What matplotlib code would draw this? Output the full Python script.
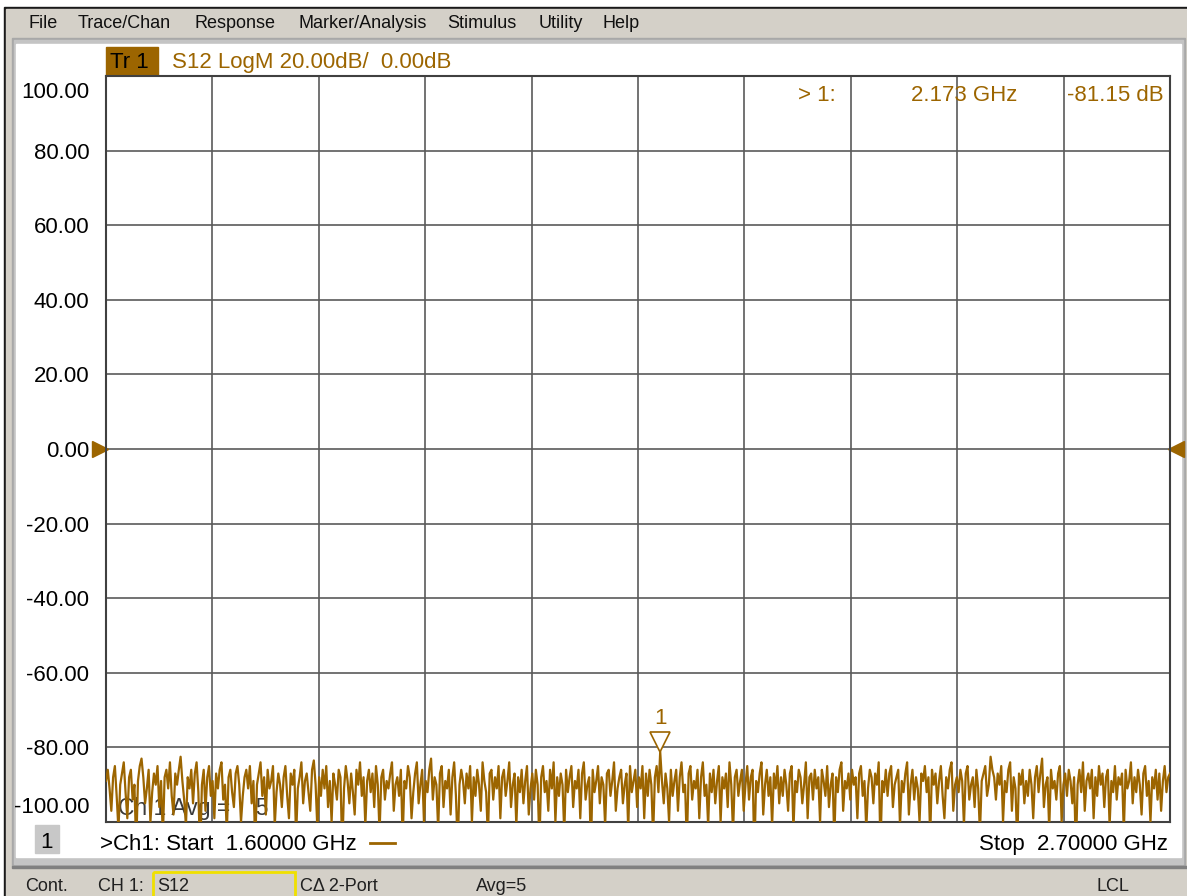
import numpy as np
import matplotlib
matplotlib.use("Agg")
import matplotlib.pyplot as plt
from matplotlib import transforms
from matplotlib.patches import Rectangle

plt.rcParams['font.family'] = ['Liberation Sans', 'DejaVu Sans']

W, H = 1187, 896
GOLD = '#9c6500'

# --- instrument settings / data ---
start_ghz = 1.6
stop_ghz = 2.7
ref_db = 0.0
ytick_vals = [-100, -80, -60, -40, -20, 0, 20, 40, 60, 80, 100]
menu_items = ['File', 'Trace/Chan', 'Response', 'Marker/Analysis', 'Stimulus', 'Utility', 'Help']
menu_x = [29, 78, 194, 299, 447, 539, 603]
marker_freq = 2.173
marker_db = -81.15

# S12 magnitude (dB) (values below -100 run off the grid)
s12_db = [
    -89, -86, -91, -97, -88, -85, -93, -102, -90, -87, -84, -92, -99, -88, -86, -94, -90, -107, -89, -85,
    -83, -88, -95, -91, -86, -100, -92, -87, -90, -85, -96, -89, -104, -88, -86, -91, -84, -93, -98, -87,
    -90, -86, -82.5, -89, -94, -101, -88, -91, -86, -95, -87, -84, -92, -109, -90, -86, -97, -88, -85, -93,
    -89, -99, -87, -91, -86, -84, -94, -90, -103, -88, -86, -92, -96, -87, -85, -90, -100, -93, -88, -86,
    -91, -85, -95, -89, -106, -90, -87, -84, -93, -88, -98, -86, -91, -89, -85, -101, -92, -87, -90, -96,
    -88, -85, -93, -99, -87, -90, -86, -104, -91, -88, -84, -95, -89, -87, -92, -97, -86, -83.5, -90, -102,
    -88, -93, -86, -91, -85, -96, -89, -100, -87, -90, -94, -86, -88, -108, -91, -85, -89, -95, -87, -92,
    -98, -86, -90, -84, -93, -88, -101, -89, -86, -92, -87, -96, -85, -90, -103, -88, -86, -94, -89, -91,
    -87, -84, -97, -90, -88, -93, -86, -105, -89, -91, -85, -88, -99, -92, -87, -84, -95, -90, -86, -100,
    -89, -92, -86, -83, -94, -88, -90, -102, -87, -85, -96, -89, -91, -86, -98, -88, -84, -93, -107, -90,
    -86, -89, -95, -87, -91, -85, -100, -88, -93, -86, -90, -97, -84, -89, -92, -104, -87, -86, -94, -88,
    -91, -85, -99, -88, -86, -93, -89, -84, -96, -90, -87, -101, -88, -92, -86, -95, -89, -85, -98, -91,
    -87, -94, -86, -90, -106, -88, -85, -92, -89, -97, -86, -91, -84, -100, -88, -93, -87, -90, -103, -86,
    -92, -88, -85, -96, -89, -91, -86, -99, -87, -84, -94, -90, -88, -108, -86, -92, -89, -85, -95, -88,
    -90, -101, -87, -86, -93, -89, -84, -97, -91, -88, -86, -95, -90, -87, -102, -85, -92, -89, -86, -96,
    -88, -91, -85, -99, -87, -93, -86, -90, -104, -88, -85, -92, -81.15, -89, -95, -87, -91, -100, -86, -93,
    -89, -86, -97, -88, -84, -92, -90, -106, -87, -85, -94, -89, -91, -86, -99, -88, -84, -93, -90, -101,
    -87, -92, -86, -95, -89, -85, -100, -88, -91, -87, -96, -84, -90, -103, -88, -86, -93, -89, -86, -97,
    -90, -85, -94, -88, -86, -109, -89, -92, -87, -84, -98, -90, -86, -93, -88, -101, -87, -91, -85, -95,
    -88, -93, -86, -90, -97, -87, -85, -102, -89, -92, -86, -88, -95, -90, -84, -99, -88, -87, -94, -86,
    -91, -88, -100, -86, -89, -93, -85, -96, -90, -87, -105, -88, -92, -86, -84, -97, -89, -91, -87, -94,
    -86, -90, -88, -99, -87, -85, -93, -89, -102, -91, -86, -88, -95, -87, -90, -84, -107, -89, -92, -86,
    -93, -87, -85, -96, -90, -88, -86, -101, -89, -92, -87, -84, -98, -90, -86, -94, -88, -91, -100, -87,
    -89, -85, -92, -88, -104, -86, -90, -87, -95, -89, -85, -93, -99, -88, -91, -86, -84, -97, -90, -88,
    -92, -86, -89, -101, -87, -85, -94, -90, -88, -96, -86, -91, -103, -89, -87, -85, -93, -90, -82.5, -86,
    -88, -94, -87, -90, -85, -100, -89, -92, -86, -84, -97, -88, -91, -106, -87, -90, -86, -95, -89, -93,
    -86, -90, -99, -88, -85, -92, -87, -83, -96, -90, -88, -102, -86, -91, -89, -94, -87, -85, -100, -90,
    -87, -93, -86, -89, -95, -88, -108, -90, -86, -92, -84, -97, -89, -87, -91, -86, -99, -88, -93, -85,
    -90, -87, -96, -88, -86, -101, -89, -92, -85, -94, -88, -90, -87, -103, -86, -91, -89, -84, -95, -88,
    -92, -86, -90, -98, -87, -85, -93, -89, -100, -88, -91, -86, -94, -87, -97, -89, -85, -92, -88, -87,
]

freq = np.linspace(start_ghz, stop_ghz, len(s12_db))

fig = plt.figure(figsize=(W / 100, H / 100), dpi=100, facecolor='white')

# background "window" drawn in pixel coords
bg = fig.add_axes([0, 0, 1, 1], zorder=0)
bg.set_xlim(0, W)
bg.set_ylim(H, 0)
bg.axis('off')

def box(x0, y0, x1, y1, **kw):
    bg.add_patch(Rectangle((x0, y0), x1 - x0, y1 - y0, **kw))

box(4, 7, W, H, color='#1a1a1a')
box(6, 9, W, H, color='#d4d0c8')
box(12, 38, 1185, 866, color='#a8a8a8')
box(14, 40, 1183, 864, color='#c4c4c4')
box(16, 44, 1181, 857, color='white')
box(12, 866, W, 868, color='#808080')

for name, x in zip(menu_items, menu_x):
    bg.text(x, 28.5, name, fontsize=13, color='#101010', va='baseline')

# Tr 1 header
box(106, 47, 158, 75, color=GOLD)
bg.text(110, 68, 'Tr 1', fontsize=16, color='black', va='baseline')
bg.text(172, 68, 'S12 LogM 20.00dB/  0.00dB', fontsize=16, color=GOLD, va='baseline')

# bottom channel line
box(35, 825, 59, 853, color='#c8c8c8')
bg.text(47, 848, '1', fontsize=16, color='black', ha='center', va='baseline')
bg.text(100, 850, '>Ch1: Start  1.60000 GHz', fontsize=16, color='black', va='baseline')
bg.plot([370, 395], [843, 843], color=GOLD, lw=2)
bg.text(1168, 850, 'Stop  2.70000 GHz', fontsize=16, color='black', ha='right', va='baseline')

# status bar
box(153, 872, 295, 898, facecolor='none', edgecolor='#f0e000', lw=2)
status = [(25, 'Cont.'), (98, 'CH 1:'), (157, 'S12'), (300, 'C\u0394 2-Port'), (476, 'Avg=5'), (1097, 'LCL')]
for x, s in status:
    bg.text(x, 891, s, fontsize=13, color='#202020', va='baseline')

# --- main trace axes ---
ax = fig.add_axes([106 / W, 1 - 822 / H, (1170 - 106) / W, (822 - 76) / H], zorder=1)
ax.patch.set_alpha(0)
ax.set_xlim(start_ghz, stop_ghz)
ax.set_ylim(-100, 100)
ax.set_xticks(np.linspace(start_ghz, stop_ghz, 11))
ax.set_xticklabels([])
ax.set_yticks(ytick_vals)
ax.set_yticklabels(['%.2f' % v for v in ytick_vals])
ax.tick_params(length=0)
ax.tick_params(axis='y', pad=12, labelsize=16, labelcolor='black')
ylabs = ax.get_yticklabels()
ylabs[0].set_va('bottom')
ylabs[0].set_transform(ylabs[0].get_transform() + transforms.ScaledTranslation(0, 3 / 72, fig.dpi_scale_trans))
ylabs[-1].set_va('top')
ylabs[-1].set_transform(ylabs[-1].get_transform() + transforms.ScaledTranslation(0, -4 / 72, fig.dpi_scale_trans))
ax.grid(True, color='#5a5a5a', lw=1.2)
ax.set_axisbelow(True)
for sp in ax.spines.values():
    sp.set_color('#404040')
    sp.set_linewidth(1.5)

ax.text(0.011, 0.0095, 'Ch 1 Avg =    5', transform=ax.transAxes, fontsize=16.5,
        color='#3a3a3a', va='baseline', zorder=1)
ax.plot(freq, s12_db, color=GOLD, lw=1.6, zorder=3)

# marker 1
mk = transforms.offset_copy(ax.transData, fig=fig, x=0, y=7.2, units='points')
ax.plot([marker_freq], [marker_db], marker='v', ms=15, mfc='white', mec=GOLD, mew=1.2,
        transform=mk, clip_on=False, zorder=5)
ax.annotate('1', (marker_freq, marker_db), xytext=(0, 24), textcoords='offset points',
            ha='center', va='center', fontsize=16, color=GOLD)

# reference level arrows
bl = transforms.blended_transform_factory(ax.transAxes, ax.transData)
ax.plot([0], [ref_db], marker='>', ms=11, color=GOLD, clip_on=False,
        transform=transforms.offset_copy(bl, fig=fig, x=-4, y=0, units='points'))
ax.plot([1], [ref_db], marker='<', ms=11, color=GOLD, clip_on=False,
        transform=transforms.offset_copy(bl, fig=fig, x=4, y=0, units='points'))

# marker readout on top of grid
fg = fig.add_axes([0, 0, 1, 1], zorder=2)
fg.set_xlim(0, W)
fg.set_ylim(H, 0)
fg.axis('off')
fg.patch.set_alpha(0)
fg.text(836, 101, '> 1:', fontsize=16, color=GOLD, ha='right', va='baseline')
fg.text(911, 101, '%.3f GHz' % marker_freq, fontsize=16, color=GOLD, va='baseline')
fg.text(1164, 101, '%.2f dB' % marker_db, fontsize=16, color=GOLD, ha='right', va='baseline')

fig.savefig('out.png', dpi=100, facecolor=fig.get_facecolor())
